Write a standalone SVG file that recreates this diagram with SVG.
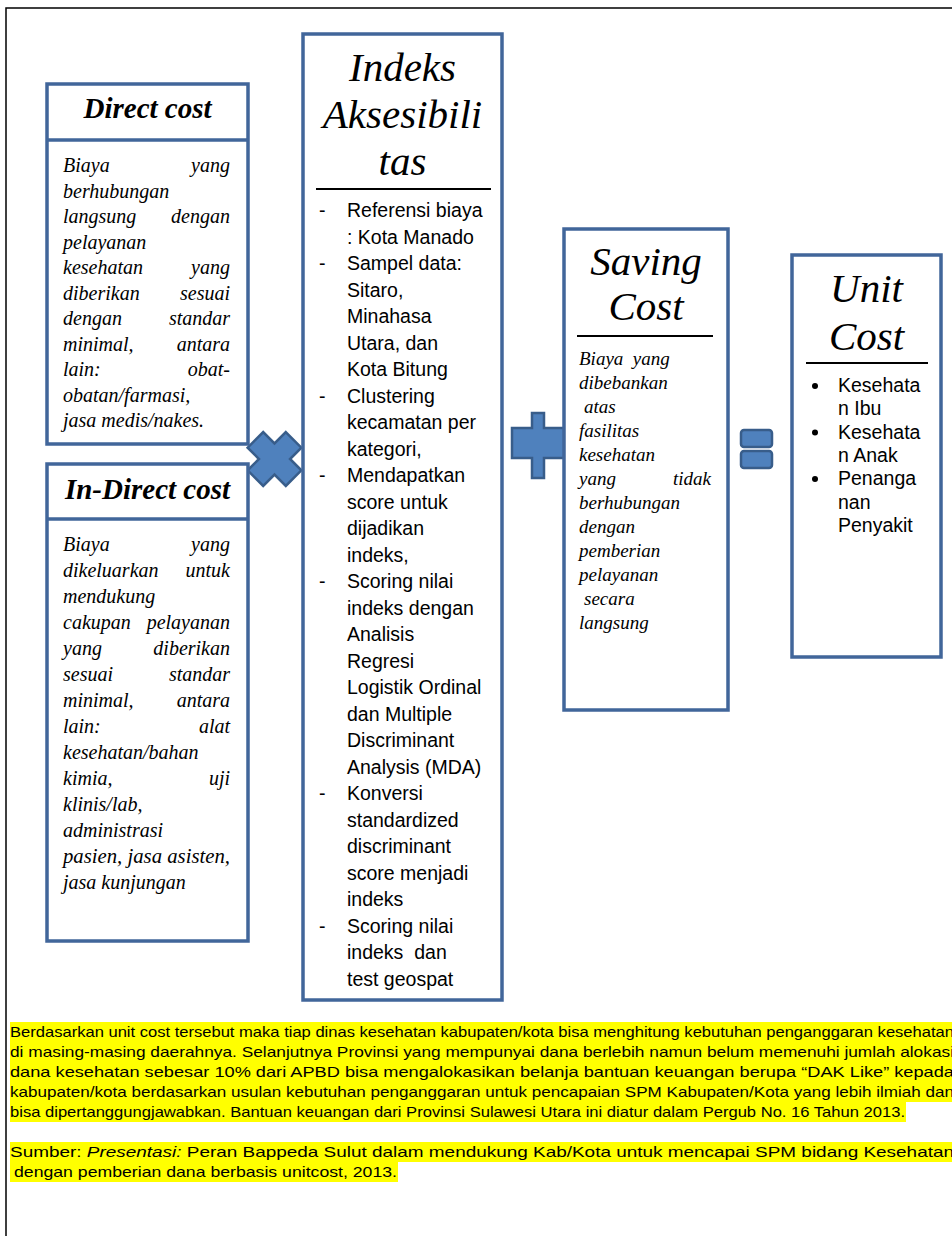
<svg xmlns="http://www.w3.org/2000/svg" width="952" height="1236" viewBox="0 0 952 1236">
<style>
.box{fill:#fff;stroke:#41669A;stroke-width:3.5}
.div{stroke:#41669A;stroke-width:3.5}
.rule{stroke:#000;stroke-width:2}
.op{fill:#4F81BD;stroke:#385D8A;stroke-width:2.5;stroke-linejoin:miter}
.hd{font-family:"Liberation Serif",serif;font-style:italic;font-weight:bold;font-size:29px;fill:#000;text-anchor:middle}
.ttl{font-family:"Liberation Serif",serif;font-style:italic;font-size:41px;fill:#000;text-anchor:middle}
.bi{font-family:"Liberation Serif",serif;font-style:italic;font-size:20px;fill:#000}
.bs{font-family:"Liberation Serif",serif;font-style:italic;font-size:19px;fill:#000}
.r{text-anchor:end}
.sn{font-family:"Liberation Sans",Arial,sans-serif;font-size:19.5px;fill:#000}
.ft{font-family:"Liberation Sans",Arial,sans-serif;font-size:14.5px;fill:#000}
.hl{fill:#FFFF00}
</style>
<rect x="6" y="8" width="970" height="1260" fill="#fff" stroke="#000" stroke-width="1.5"/>

<g id="connectors">
<polygon class="op" transform="translate(274.5,459) rotate(45)" points="-11,-27 11,-27 11,-11 27,-11 27,11 11,11 11,27 -11,27 -11,11 -27,11 -27,-11 -11,-11"/>
<polygon class="op" points="532,413 544,413 544,428 568,428 568,458 544,458 544,478 532,478 532,458 512,458 512,428 532,428"/>
<rect class="op" x="741" y="430" width="31" height="17" rx="3"/>
<rect class="op" x="741" y="451" width="31" height="17" rx="3"/>
</g>

<g id="direct-cost">
<rect class="box" x="47" y="84" width="201" height="360"/>
<line class="div" x1="47" y1="140" x2="248" y2="140"/>
<text class="hd" x="147.5" y="118">Direct cost</text>
<text class="bi" x="63" y="172">Biaya</text><text class="bi r" x="230" y="172">yang</text>
<text class="bi" x="63" y="197.5">berhubungan</text>
<text class="bi" x="63" y="223">langsung</text><text class="bi r" x="230" y="223">dengan</text>
<text class="bi" x="63" y="248.5">pelayanan</text>
<text class="bi" x="63" y="274">kesehatan</text><text class="bi r" x="230" y="274">yang</text>
<text class="bi" x="63" y="299.5">diberikan</text><text class="bi r" x="230" y="299.5">sesuai</text>
<text class="bi" x="63" y="325">dengan</text><text class="bi r" x="230" y="325">standar</text>
<text class="bi" x="63" y="350.5">minimal,</text><text class="bi r" x="230" y="350.5">antara</text>
<text class="bi" x="63" y="376">lain:</text><text class="bi r" x="230" y="376">obat-</text>
<text class="bi" x="63" y="401.5">obatan/farmasi,</text>
<text class="bi" x="63" y="427">jasa medis/nakes.</text>
</g>

<g id="indirect-cost">
<rect class="box" x="47" y="464" width="201" height="477"/>
<line class="div" x1="47" y1="519" x2="248" y2="519"/>
<text class="hd" x="147.5" y="499">In-Direct cost</text>
<text class="bi" x="63" y="551">Biaya</text><text class="bi r" x="230" y="551">yang</text>
<text class="bi" x="63" y="577">dikeluarkan</text><text class="bi r" x="230" y="577">untuk</text>
<text class="bi" x="63" y="603">mendukung</text>
<text class="bi" x="63" y="629">cakupan</text><text class="bi r" x="230" y="629">pelayanan</text>
<text class="bi" x="63" y="655">yang</text><text class="bi r" x="230" y="655">diberikan</text>
<text class="bi" x="63" y="681">sesuai</text><text class="bi r" x="230" y="681">standar</text>
<text class="bi" x="63" y="707">minimal,</text><text class="bi r" x="230" y="707">antara</text>
<text class="bi" x="63" y="733">lain:</text><text class="bi r" x="230" y="733">alat</text>
<text class="bi" x="63" y="759">kesehatan/bahan</text>
<text class="bi" x="63" y="785">kimia,</text><text class="bi r" x="230" y="785">uji</text>
<text class="bi" x="63" y="811">klinis/lab,</text>
<text class="bi" x="63" y="837">administrasi</text>
<text class="bi" x="63" y="863" textLength="167" lengthAdjust="spacingAndGlyphs">pasien, jasa asisten,</text>
<text class="bi" x="63" y="889">jasa kunjungan</text>
</g>

<g id="indeks-aksesibilitas">
<rect class="box" x="303" y="34" width="199" height="966"/>
<text class="ttl" x="402.5" y="81">Indeks</text>
<text class="ttl" x="402.5" y="128">Aksesibili</text>
<text class="ttl" x="402.5" y="175">tas</text>
<line class="rule" x1="316" y1="189" x2="491" y2="189"/>
<g class="sn">
<text x="319" y="217">-</text><text x="347" y="217">Referensi biaya</text>
<text x="347" y="243.5">: Kota Manado</text>
<text x="319" y="270">-</text><text x="347" y="270">Sampel data:</text>
<text x="347" y="296.5">Sitaro,</text>
<text x="347" y="323">Minahasa</text>
<text x="347" y="349.5">Utara, dan</text>
<text x="347" y="376">Kota Bitung</text>
<text x="319" y="402.5">-</text><text x="347" y="402.5">Clustering</text>
<text x="347" y="429">kecamatan per</text>
<text x="347" y="455.5">kategori,</text>
<text x="319" y="482">-</text><text x="347" y="482">Mendapatkan</text>
<text x="347" y="508.5">score untuk</text>
<text x="347" y="535">dijadikan</text>
<text x="347" y="561.5">indeks,</text>
<text x="319" y="588">-</text><text x="347" y="588">Scoring nilai</text>
<text x="347" y="614.5">indeks dengan</text>
<text x="347" y="641">Analisis</text>
<text x="347" y="667.5">Regresi</text>
<text x="347" y="694">Logistik Ordinal</text>
<text x="347" y="720.5">dan Multiple</text>
<text x="347" y="747">Discriminant</text>
<text x="347" y="773.5">Analysis (MDA)</text>
<text x="319" y="800">-</text><text x="347" y="800">Konversi</text>
<text x="347" y="826.5">standardized</text>
<text x="347" y="853">discriminant</text>
<text x="347" y="879.5">score menjadi</text>
<text x="347" y="906">indeks</text>
<text x="319" y="932.5">-</text><text x="347" y="932.5">Scoring nilai</text>
<text x="347" y="959" xml:space="preserve">indeks  dan</text>
<text x="347" y="985.5">test geospat</text>
</g>
</g>

<g id="saving-cost">
<rect class="box" x="564" y="229" width="164" height="481"/>
<text class="ttl" x="646" y="275">Saving</text>
<text class="ttl" x="646" y="320">Cost</text>
<line class="rule" x1="577" y1="336" x2="713" y2="336"/>
<text class="bs" x="579" y="365" xml:space="preserve">Biaya  yang</text>
<text class="bs" x="579" y="389">dibebankan</text>
<text class="bs" x="584" y="413">atas</text>
<text class="bs" x="579" y="437">fasilitas</text>
<text class="bs" x="579" y="461">kesehatan</text>
<text class="bs" x="579" y="485">yang</text><text class="bs r" x="711" y="485">tidak</text>
<text class="bs" x="579" y="509">berhubungan</text>
<text class="bs" x="579" y="533">dengan</text>
<text class="bs" x="579" y="557">pemberian</text>
<text class="bs" x="579" y="581">pelayanan</text>
<text class="bs" x="584" y="605">secara</text>
<text class="bs" x="579" y="629">langsung</text>
</g>

<g id="unit-cost">
<rect class="box" x="792" y="255" width="149" height="402"/>
<text class="ttl" x="866.5" y="302">Unit</text>
<text class="ttl" x="866.5" y="350">Cost</text>
<line class="rule" x1="806" y1="363" x2="928" y2="363"/>
<circle cx="815" cy="386" r="3"/><circle cx="815" cy="432.6" r="3"/><circle cx="815" cy="479" r="3"/>
<g class="sn">
<text x="838" y="392">Kesehata</text>
<text x="838" y="415.3">n Ibu</text>
<text x="838" y="438.6">Kesehata</text>
<text x="838" y="462">n Anak</text>
<text x="838" y="485.3">Penanga</text>
<text x="838" y="508.6">nan</text>
<text x="838" y="532">Penyakit</text>
</g>
</g>

<g id="footnote">
<rect class="hl" x="10" y="1022" width="942" height="80"/>
<rect class="hl" x="10" y="1102" width="896" height="20"/>
<rect class="hl" x="10" y="1142" width="942" height="20"/>
<rect class="hl" x="10" y="1162" width="388" height="20"/>
<text class="ft" x="10" y="1037" textLength="944" lengthAdjust="spacingAndGlyphs">Berdasarkan unit cost tersebut maka tiap dinas kesehatan kabupaten/kota bisa menghitung kebutuhan penganggaran kesehatan</text>
<text class="ft" x="10" y="1057" textLength="944" lengthAdjust="spacingAndGlyphs">di masing-masing daerahnya. Selanjutnya Provinsi yang mempunyai dana berlebih namun belum memenuhi jumlah alokasi</text>
<text class="ft" x="10" y="1077" textLength="944" lengthAdjust="spacingAndGlyphs">dana kesehatan sebesar 10% dari APBD bisa mengalokasikan belanja bantuan keuangan berupa “DAK Like” kepada</text>
<text class="ft" x="10" y="1097" textLength="944" lengthAdjust="spacingAndGlyphs">kabupaten/kota berdasarkan usulan kebutuhan penganggaran untuk pencapaian SPM Kabupaten/Kota yang lebih ilmiah dan</text>
<text class="ft" x="10" y="1117" textLength="895" lengthAdjust="spacingAndGlyphs">bisa dipertanggungjawabkan. Bantuan keuangan dari Provinsi Sulawesi Utara ini diatur dalam Pergub No. 16 Tahun 2013.</text>
<text class="ft" x="10" y="1157" textLength="944" lengthAdjust="spacingAndGlyphs">Sumber: <tspan font-style="italic">Presentasi:</tspan> Peran Bappeda Sulut dalam mendukung Kab/Kota untuk mencapai SPM bidang Kesehatan</text>
<text class="ft" x="14" y="1177" textLength="383" lengthAdjust="spacingAndGlyphs">dengan pemberian dana berbasis unitcost, 2013.</text>
</g>
</svg>
